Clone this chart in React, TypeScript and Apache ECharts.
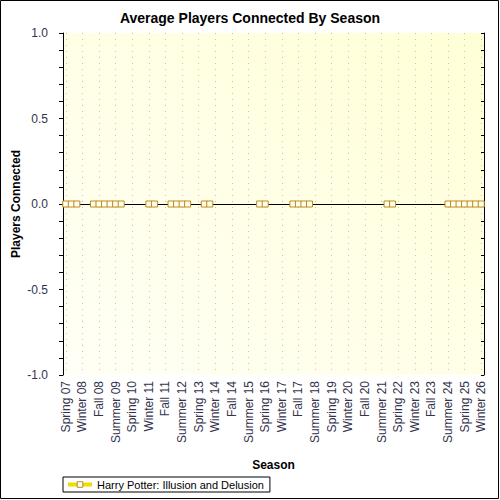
import { useEffect, useRef } from "react";
import * as echarts from "echarts";

const seasons = [
  "Spring 07", "Summer 07", "Fall 07",
  "Winter 08", "Spring 08", "Summer 08", "Fall 08",
  "Winter 09", "Spring 09", "Summer 09", "Fall 09",
  "Winter 10", "Spring 10", "Summer 10", "Fall 10",
  "Winter 11", "Spring 11", "Summer 11", "Fall 11",
  "Winter 12", "Spring 12", "Summer 12", "Fall 12",
  "Winter 13", "Spring 13", "Summer 13", "Fall 13",
  "Winter 14", "Spring 14", "Summer 14", "Fall 14",
  "Winter 15", "Spring 15", "Summer 15", "Fall 15",
  "Winter 16", "Spring 16", "Summer 16", "Fall 16",
  "Winter 17", "Spring 17", "Summer 17", "Fall 17",
  "Winter 18", "Spring 18", "Summer 18", "Fall 18",
  "Winter 19", "Spring 19", "Summer 19", "Fall 19",
  "Winter 20", "Spring 20", "Summer 20", "Fall 20",
  "Winter 21", "Spring 21", "Summer 21", "Fall 21",
  "Winter 22", "Spring 22", "Summer 22", "Fall 22",
  "Winter 23", "Spring 23", "Summer 23", "Fall 23",
  "Winter 24", "Spring 24", "Summer 24", "Fall 24",
  "Winter 25", "Spring 25", "Summer 25", "Fall 25",
  "Winter 26",
];

// null = no record for that season
const playersConnected = [
  0, 0, 0, null, null, 0, 0, 0, 0, 0,
  0, null, null, null, null, 0, 0, null, null, 0,
  0, 0, 0, null, null, 0, 0, null, null, null,
  null, null, null, null, null, 0, 0, null, null, null,
  null, 0, 0, 0, 0, null, null, null, null, null,
  null, null, null, null, null, null, null, null, 0, 0,
  null, null, null, null, null, null, null, null, null, 0,
  0, 0, 0, 0, 0, 0,
];

const yTicks = { min: -1, max: 1, step: 0.5 };

const font = "Arial, 'Liberation Sans', sans-serif";
const labelColor = "#33334d";

export default function App() {
  const ref = useRef<HTMLDivElement>(null);

  useEffect(() => {
    document.body.style.margin = "0";
    const el = ref.current;
    if (!el) return;
    const chart = echarts.init(el, undefined, { renderer: "svg" });
    chart.setOption({
      animation: false,
      backgroundColor: "#ffffff",
      textStyle: { fontFamily: font },
      title: {
        text: "Average Players Connected By Season",
        left: "center",
        top: 6,
        textStyle: { fontSize: 14, fontWeight: "bold", color: "#000", fontFamily: font },
      },
      graphic: [
        {
          type: "rect",
          shape: { x: 0.5, y: 0.5, width: 498, height: 498 },
          style: { fill: "none", stroke: "#000", lineWidth: 1 },
          silent: true,
        },
      ],
      legend: {
        left: 63,
        top: 477,
        padding: [2, 6, 2, 3],
        itemWidth: 24,
        itemHeight: 7,
        itemGap: 4,
        borderColor: "#000",
        borderWidth: 1,
        backgroundColor: "#fff",
        textStyle: { fontSize: 11, color: "#000", fontFamily: font },
        lineStyle: { color: "#f5d800", width: 4, opacity: 1 },
        itemStyle: { color: "#ffffff", borderColor: "#c08a1c", borderWidth: 1 },
      },
      grid: {
        left: 63,
        right: 16,
        top: 33,
        bottom: 125,
        outerBoundsMode: "none",
        show: true,
        borderWidth: 0,
        backgroundColor: new echarts.graphic.LinearGradient(0, 1, 1, 0, [
          { offset: 0, color: "#fffff6" },
          { offset: 1, color: "#ffffd6" },
        ]),
      },
      xAxis: [
        {
          type: "category",
          data: seasons,
          boundaryGap: true,
          name: "Season",
          nameLocation: "middle",
          nameGap: 84,
          nameMoveOverlap: false,
          nameTextStyle: { fontSize: 12, fontWeight: "bold", color: "#000", fontFamily: font },
          axisLine: { lineStyle: { color: "#000", width: 1 } },
          axisTick: { interval: 0, alignWithLabel: true, length: 4, lineStyle: { color: "#000" } },
          axisLabel: {
            interval: 2,
            rotate: 90,
            margin: 6,
            fontSize: 12,
            color: labelColor,
            fontFamily: font,
          },
          splitLine: {
            show: true,
            interval: 2,
            alignWithLabel: true,
            lineStyle: { color: "#c4c4c4", type: [1, 5], width: 1 },
          },
        },
        {
          type: "category",
          data: seasons,
          position: "top",
          boundaryGap: true,
          axisLine: { lineStyle: { color: "#000", width: 1 } },
          axisTick: { interval: 0, alignWithLabel: true, inside: true, length: 3, lineStyle: { color: "#000" } },
          axisLabel: { show: false },
          splitLine: { show: false },
        },
      ],
      yAxis: [
        {
          type: "value",
          min: yTicks.min,
          max: yTicks.max,
          interval: yTicks.step,
          name: "Players Connected",
          nameLocation: "middle",
          nameGap: 41,
          nameMoveOverlap: false,
          nameTextStyle: { fontSize: 12, fontWeight: "bold", color: "#000", fontFamily: font },
          axisLine: { show: true, lineStyle: { color: "#000", width: 1 } },
          axisTick: { show: true, length: 4, lineStyle: { color: "#000" } },
          minorTick: { show: true, splitNumber: 5, length: 4, lineStyle: { color: "#000" } },
          axisLabel: {
            margin: 15,
            fontSize: 12,
            color: labelColor,
            fontFamily: font,
            formatter: (v: number) => v.toFixed(1),
          },
          splitLine: { show: false },
          minorSplitLine: { show: false },
        },
        {
          type: "value",
          position: "right",
          min: yTicks.min,
          max: yTicks.max,
          interval: yTicks.step,
          axisLine: { show: true, lineStyle: { color: "#000", width: 1 } },
          axisTick: { show: true, inside: true, length: 3, lineStyle: { color: "#000" } },
          minorTick: { show: true, splitNumber: 5, length: 3, lineStyle: { color: "#000" } },
          axisLabel: { show: false },
          splitLine: { show: false },
        },
      ],
      series: [
        {
          name: "Harry Potter: Illusion and Delusion",
          type: "line",
          data: playersConnected,
          connectNulls: false,
          symbol: "rect",
          symbolSize: [6, 6],
          showAllSymbol: true,
          lineStyle: { opacity: 0 },
          itemStyle: { color: "#fffff0", borderColor: "#c08a1c", borderWidth: 1 },
          z: 3,
          markLine: {
            silent: true,
            symbol: "none",
            label: { show: false },
            lineStyle: { color: "#000", width: 1, type: "solid" },
            data: [{ yAxis: 0 }],
            z: 2,
          },
        },
      ],
    });
    return () => chart.dispose();
  }, []);

  return <div ref={ref} style={{ width: 500, height: 500 }} />;
}
